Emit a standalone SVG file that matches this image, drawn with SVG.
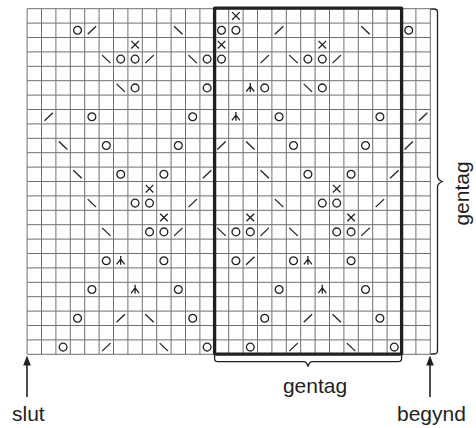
<svg xmlns="http://www.w3.org/2000/svg" xmlns:xlink="http://www.w3.org/1999/xlink" width="476" height="428" viewBox="0 0 476 428">
<style>
.grid{fill:none;stroke:#707070;stroke-width:1}
.sym{fill:none;stroke:#231f20;stroke-width:1.3}
.thick{fill:none;stroke:#231f20;stroke-width:3.3;stroke-linejoin:round}
.brace{fill:none;stroke:#231f20;stroke-width:1.3}
.arrow{stroke:#231f20;stroke-width:1.6;fill:none}
.head{fill:#231f20}
text{font-family:"Liberation Sans",Arial,sans-serif;font-size:21px;fill:#231f20}
</style>
<defs>
<circle id="o" class="sym" r="3.9"/>
<path id="x" class="sym" d="M-3.8-3.8L3.8 3.8M-3.8 3.8L3.8-3.8"/>
<path id="f" class="sym" d="M-4.2 4L4.2-4"/>
<path id="b" class="sym" d="M-4.2-4L4.2 4"/>
<path id="y" class="sym" d="M0-4.8V4M0-1.6L-4 3.6M0-1.6L4 3.6"/>
</defs>
<rect width="476" height="428" fill="#fff"/>
<g id="grid">
<path class="grid" d="M27.1 8.7V354.3M41.5 8.7V354.3M55.9 8.7V354.3M70.3 8.7V354.3M84.7 8.7V354.3M99.1 8.7V354.3M113.5 8.7V354.3M127.9 8.7V354.3M142.3 8.7V354.3M156.7 8.7V354.3M171.1 8.7V354.3M185.5 8.7V354.3M199.9 8.7V354.3M214.3 8.7V354.3M228.7 8.7V354.3M243.1 8.7V354.3M257.5 8.7V354.3M271.9 8.7V354.3M286.3 8.7V354.3M300.7 8.7V354.3M315.1 8.7V354.3M329.5 8.7V354.3M343.9 8.7V354.3M358.3 8.7V354.3M372.7 8.7V354.3M387.1 8.7V354.3M401.5 8.7V354.3M415.9 8.7V354.3M430.3 8.7V354.3"/>
<path class="grid" d="M27.1 8.7H430.3M27.1 23.1H430.3M27.1 37.5H430.3M27.1 51.9H430.3M27.1 66.3H430.3M27.1 80.7H430.3M27.1 95.1H430.3M27.1 109.5H430.3M27.1 123.9H430.3M27.1 138.3H430.3M27.1 152.7H430.3M27.1 167.1H430.3M27.1 181.5H430.3M27.1 195.9H430.3M27.1 210.3H430.3M27.1 224.7H430.3M27.1 239.1H430.3M27.1 253.5H430.3M27.1 267.9H430.3M27.1 282.3H430.3M27.1 296.7H430.3M27.1 311.1H430.3M27.1 325.5H430.3M27.1 339.9H430.3M27.1 354.3H430.3"/>
</g>
<g id="symbols">
<use href="#x" x="235.9" y="15.9"/>
<use href="#o" x="77.5" y="30.3"/><use href="#f" x="91.9" y="30.3"/><use href="#b" x="178.3" y="30.3"/><use href="#o" x="221.5" y="30.3"/><use href="#o" x="235.9" y="30.3"/><use href="#f" x="279.1" y="30.3"/><use href="#b" x="365.5" y="30.3"/><use href="#o" x="408.7" y="30.3"/>
<use href="#x" x="135.1" y="44.7"/><use href="#x" x="221.5" y="44.7"/><use href="#x" x="322.3" y="44.7"/>
<use href="#b" x="106.3" y="59.1"/><use href="#o" x="120.7" y="59.1"/><use href="#o" x="135.1" y="59.1"/><use href="#f" x="149.5" y="59.1"/><use href="#b" x="192.7" y="59.1"/><use href="#o" x="207.1" y="59.1"/><use href="#o" x="221.5" y="59.1"/><use href="#f" x="264.7" y="59.1"/><use href="#b" x="293.5" y="59.1"/><use href="#o" x="307.9" y="59.1"/><use href="#o" x="322.3" y="59.1"/><use href="#f" x="336.7" y="59.1"/>
<use href="#b" x="120.7" y="87.9"/><use href="#o" x="135.1" y="87.9"/><use href="#o" x="207.1" y="87.9"/><use href="#y" x="250.3" y="87.9"/><use href="#o" x="264.7" y="87.9"/><use href="#b" x="307.9" y="87.9"/><use href="#o" x="322.3" y="87.9"/>
<use href="#f" x="48.7" y="116.7"/><use href="#o" x="91.9" y="116.7"/><use href="#o" x="192.7" y="116.7"/><use href="#y" x="235.9" y="116.7"/><use href="#o" x="279.1" y="116.7"/><use href="#o" x="379.9" y="116.7"/><use href="#f" x="423.1" y="116.7"/>
<use href="#b" x="63.1" y="145.5"/><use href="#o" x="106.3" y="145.5"/><use href="#o" x="178.3" y="145.5"/><use href="#f" x="221.5" y="145.5"/><use href="#b" x="250.3" y="145.5"/><use href="#o" x="293.5" y="145.5"/><use href="#o" x="365.5" y="145.5"/><use href="#f" x="408.7" y="145.5"/>
<use href="#b" x="77.5" y="174.3"/><use href="#o" x="120.7" y="174.3"/><use href="#o" x="163.9" y="174.3"/><use href="#f" x="207.1" y="174.3"/><use href="#b" x="264.7" y="174.3"/><use href="#o" x="307.9" y="174.3"/><use href="#o" x="351.1" y="174.3"/><use href="#f" x="394.3" y="174.3"/>
<use href="#x" x="149.5" y="188.7"/><use href="#x" x="336.7" y="188.7"/>
<use href="#b" x="91.9" y="203.1"/><use href="#o" x="135.1" y="203.1"/><use href="#o" x="149.5" y="203.1"/><use href="#f" x="192.7" y="203.1"/><use href="#b" x="279.1" y="203.1"/><use href="#o" x="322.3" y="203.1"/><use href="#o" x="336.7" y="203.1"/><use href="#f" x="379.9" y="203.1"/>
<use href="#x" x="163.9" y="217.5"/><use href="#x" x="250.3" y="217.5"/><use href="#x" x="351.1" y="217.5"/>
<use href="#b" x="106.3" y="231.9"/><use href="#o" x="149.5" y="231.9"/><use href="#o" x="163.9" y="231.9"/><use href="#f" x="178.3" y="231.9"/><use href="#b" x="221.5" y="231.9"/><use href="#o" x="235.9" y="231.9"/><use href="#o" x="250.3" y="231.9"/><use href="#f" x="264.7" y="231.9"/><use href="#b" x="293.5" y="231.9"/><use href="#o" x="336.7" y="231.9"/><use href="#o" x="351.1" y="231.9"/><use href="#f" x="365.5" y="231.9"/>
<use href="#o" x="106.3" y="260.7"/><use href="#y" x="120.7" y="260.7"/><use href="#o" x="163.9" y="260.7"/><use href="#o" x="235.9" y="260.7"/><use href="#f" x="250.3" y="260.7"/><use href="#o" x="293.5" y="260.7"/><use href="#y" x="307.9" y="260.7"/><use href="#o" x="351.1" y="260.7"/>
<use href="#o" x="91.9" y="289.5"/><use href="#y" x="135.1" y="289.5"/><use href="#o" x="178.3" y="289.5"/><use href="#o" x="279.1" y="289.5"/><use href="#y" x="322.3" y="289.5"/><use href="#o" x="365.5" y="289.5"/>
<use href="#o" x="77.5" y="318.3"/><use href="#f" x="120.7" y="318.3"/><use href="#b" x="149.5" y="318.3"/><use href="#o" x="192.7" y="318.3"/><use href="#o" x="264.7" y="318.3"/><use href="#f" x="307.9" y="318.3"/><use href="#b" x="336.7" y="318.3"/><use href="#o" x="379.9" y="318.3"/>
<use href="#o" x="63.1" y="347.1"/><use href="#f" x="106.3" y="347.1"/><use href="#b" x="163.9" y="347.1"/><use href="#o" x="207.1" y="347.1"/><use href="#o" x="250.3" y="347.1"/><use href="#f" x="293.5" y="347.1"/><use href="#b" x="351.1" y="347.1"/><use href="#o" x="394.3" y="347.1"/>
</g>
<rect id="repeat-box" class="thick" x="214.6" y="8.2" width="187" height="345.9"/>
<g id="connectors">
<path class="brace" d="M214.6 355.5V358.5Q214.6 361.7 218 361.7H303.5Q306.8 361.7 308 366.5Q309.2 361.7 312.5 361.7H398Q401.6 361.7 401.6 358.5V355.5"/>
<path class="brace" d="M430.5 9H434Q437.5 9 437.5 12.5V176Q437.5 179.5 442.3 181.5Q437.5 183.5 437.5 187V350.5Q437.5 354 434 354H430.5"/>
<path class="arrow" d="M27 397V363"/><path class="head" d="M27 355.5L23.2 365.5H30.8Z"/>
<path class="arrow" d="M430 397V363"/><path class="head" d="M430 355.5L426.2 365.5H433.8Z"/>
</g>
<g id="labels">
<text x="12" y="420.5">slut</text>
<text x="315" y="393" text-anchor="middle">gentag</text>
<text x="397" y="420.5">begynd</text>
<text transform="translate(468.5 193.5) rotate(-90)" text-anchor="middle">gentag</text>
</g>
</svg>
